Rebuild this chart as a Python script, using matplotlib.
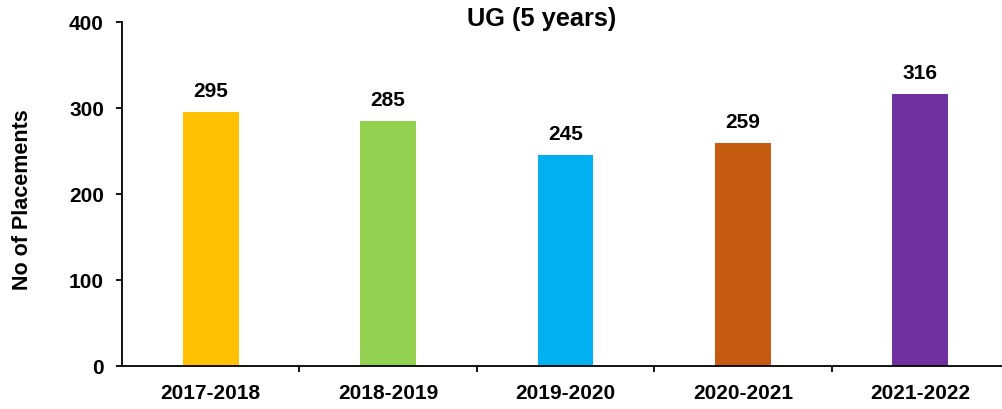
import matplotlib
matplotlib.use('Agg')
import matplotlib.pyplot as plt
from matplotlib.ticker import FixedLocator

# data
years = ['2017-2018', '2018-2019', '2019-2020', '2020-2021', '2021-2022']
placements = [295, 285, 245, 259, 316]
bar_colors = ['#FFC000', '#92D050', '#00B0F0', '#C55A11', '#7030A0']

plt.rcParams['font.family'] = ['Liberation Sans', 'DejaVu Sans']
plt.rcParams['font.weight'] = 'bold'

fig = plt.figure(figsize=(10.02, 4.10), dpi=100)
# axes runs a little past the right edge, like the source
ax = fig.add_axes([122 / 1002, 1 - 367 / 410, 887 / 1002, 344 / 410])

x = range(len(years))
ax.bar(x, placements, width=0.315, color=bar_colors, zorder=2)
for xi, v in zip(x, placements):
	ax.annotate(str(v), (xi, v), xytext=(0, 8.5), textcoords='offset points',
				ha='center', va='bottom', fontsize=15, fontweight='bold')

ax.set_xlim(-0.5, len(years) - 0.5)
ax.set_ylim(0, 400)
ax.set_yticks([0, 100, 200, 300, 400])
ax.set_xticks(list(x))
ax.set_xticklabels(years, fontsize=15, fontweight='bold')
ax.tick_params(axis='x', which='major', length=0, pad=12.5)
ax.xaxis.set_minor_locator(FixedLocator([i + 0.5 for i in range(len(years) - 1)]))
ax.tick_params(axis='x', which='minor', length=4, width=1.3, direction='out')
ax.tick_params(axis='y', length=4, width=1.3, labelsize=15, pad=9)
for lbl in ax.get_yticklabels():
	lbl.set_fontweight('bold')

for s in ['top', 'right']:
	ax.spines[s].set_visible(False)
for s in ['left', 'bottom']:
	ax.spines[s].set_linewidth(1.3)

ax.set_ylabel('No of Placements', fontsize=15.5, fontweight='bold')
ax.yaxis.set_label_coords(-0.1, 0.486)
fig.text(542 / 1002, 1 - 26 / 410, 'UG (5 years)', ha='center', va='baseline',
		 fontsize=18.3, fontweight='bold')

fig.savefig('out.png', dpi=100, facecolor='white')
